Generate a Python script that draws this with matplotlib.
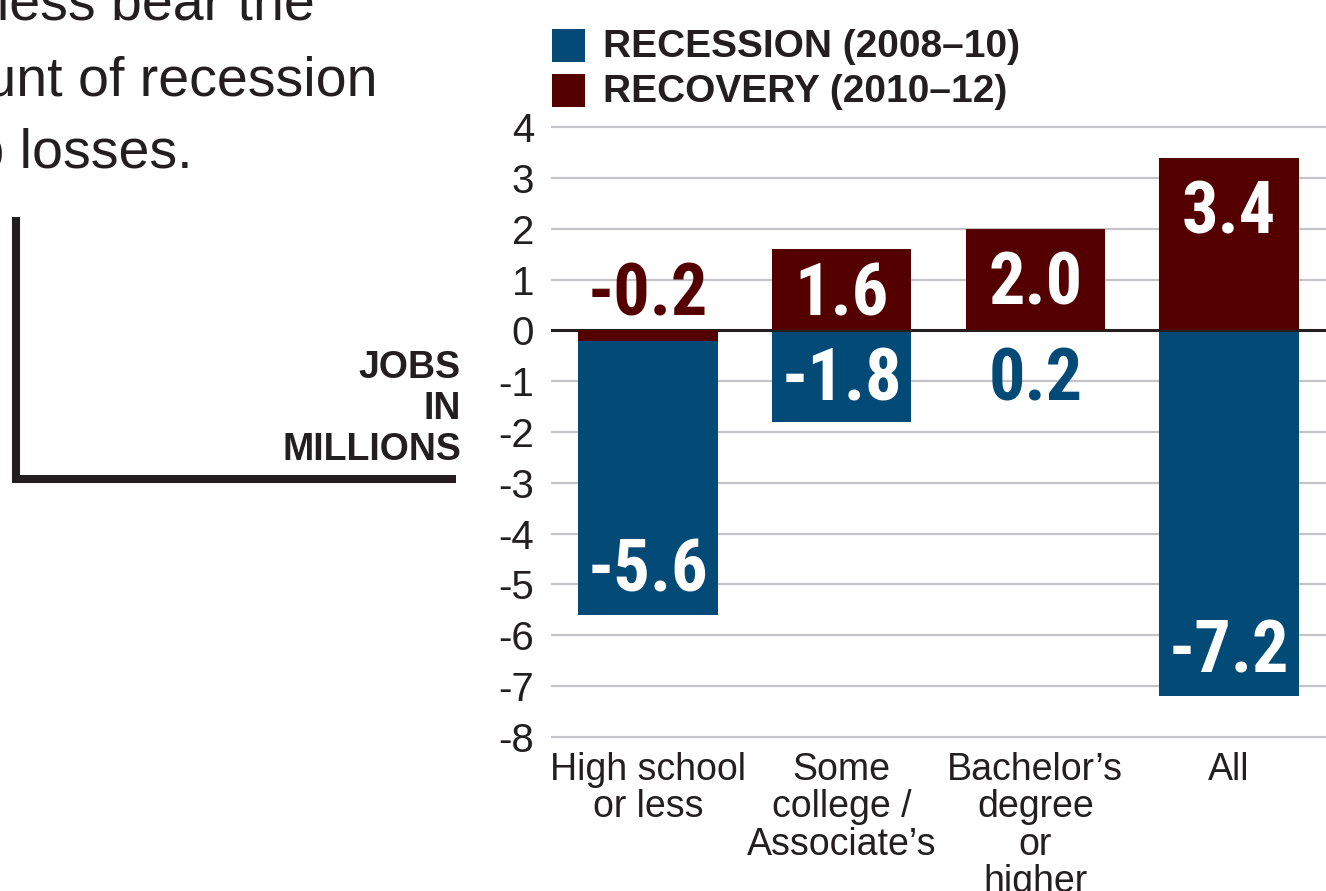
import matplotlib
matplotlib.use('Agg')
from matplotlib import pyplot as plt
from matplotlib.patches import Rectangle
from matplotlib.lines import Line2D

W, H = 1326, 891  # output size in pixels

categories = ['High school\nor less', 'Some\ncollege /\nAssociate’s',
              'Bachelor’s\ndegree\nor\nhigher', 'All']
recession = [-5.6, -1.8, 0.2, -7.2]
recovery = [-0.2, 1.6, 2.0, 3.4]
series = ['RECESSION (2008–10)', 'RECOVERY (2010–12)']
yticks = list(range(-8, 5))
ytick_labels = [str(t) for t in yticks]
title_lines = ['diploma or less bear the', 'brunt of recession', 'job losses.']
unit_label = 'JOBS\nIN\nMILLIONS'

BLUE = '#034a77'
RED = '#540000'
INK = '#231f20'
GRID = '#c4c4c8'

SANS = ['Liberation Sans', 'DejaVu Sans']
NARROW = ['Roboto Condensed', 'Open Sans Condensed', 'Liberation Sans Narrow',
          'DejaVu Sans Condensed', 'Roboto', 'Liberation Sans', 'DejaVu Sans']


def fx(x):  # pixel x -> figure fraction
    return x / W


def fy(y):  # pixel y (from top) -> figure fraction
    return 1 - y / H


fig = plt.figure(figsize=(W / 100, H / 100), dpi=100)
fig.patch.set_facecolor('white')

# plot area: gridlines span x 551..1326, y=4 at 127px, y=-8 at 737px
ax = fig.add_axes([fx(551), fy(742), fx(1326) - fx(551), (742 - 122) / H])
ax.set_xlim(-0.5, 3.5)
ax.set_ylim(-8.1, 4.1)
for s in ax.spines.values():
    s.set_visible(False)

for t in yticks:
    if t == 0:
        continue
    ax.axhline(t, color=GRID, lw=1.6, zorder=1)

x = range(len(categories))
ax.bar(x, recession, width=0.72, color=BLUE, zorder=2)
ax.bar(x, recovery, width=0.72, color=RED, zorder=3)
ax.axhline(0, color=INK, lw=2.2, zorder=2.5)

ax.set_yticks(yticks)
ax.set_yticklabels(ytick_labels, family=SANS, fontsize=29, color=INK)
ax.set_xticks(list(x))
ax.set_xticklabels(categories, family=SANS, fontsize=27, color=INK, linespacing=1.05)
ax.tick_params(axis='y', length=0, pad=12)
ax.tick_params(axis='x', length=0, pad=7)

# value labels: inside the bar when it is tall enough, otherwise in the bar's colour
for i in x:
    v = recovery[i]
    yb = max(v - 1.5, 0.3)
    c = RED if abs(v) < 1 else 'white'
    ax.text(i, yb, '%.1f' % v, ha='center', va='baseline', fontsize=52,
            fontweight='bold', fontstretch='condensed', family=NARROW, color=c, zorder=5)
    v = recession[i]
    yb = min(min(v, 0) + 0.47, -1.38)
    c = BLUE if abs(v) < 1 else 'white'
    ax.text(i, yb, '%.1f' % v, ha='center', va='baseline', fontsize=52,
            fontweight='bold', fontstretch='condensed', family=NARROW, color=c, zorder=5)

# legend
for k, (name, col) in enumerate(zip(series, [BLUE, RED])):
    top = 29 + 45 * k
    fig.add_artist(Rectangle((fx(552), fy(top + 33)), 33 / W, 33 / H,
                             transform=fig.transFigure, color=col, lw=0))
    fig.text(fx(603), fy(57 + 45 * k), name, ha='left', va='baseline',
             fontsize=28, fontweight='bold', family=SANS, color=INK)

# headline (cut off at the left edge)
for line, xr, yb in zip(title_lines, [315, 378, 193], [20, 95, 168]):
    fig.text(fx(xr), fy(yb), line, ha='right', va='baseline',
             fontsize=40, family=SANS, color=INK)

# unit label and bracket
fig.text(fx(461), fy(460), unit_label, ha='right', va='baseline', fontsize=27,
         fontweight='bold', family=SANS, color=INK, linespacing=1.17,
         multialignment='right')
fig.add_artist(Line2D([fx(16), fx(16)], [fy(217), fy(483)], lw=5.8,
                      color=INK, solid_capstyle='butt'))
fig.add_artist(Line2D([fx(12), fx(456)], [fy(479), fy(479)], lw=5.8,
                      color=INK, solid_capstyle='butt'))

fig.savefig('out.png', dpi=100)
